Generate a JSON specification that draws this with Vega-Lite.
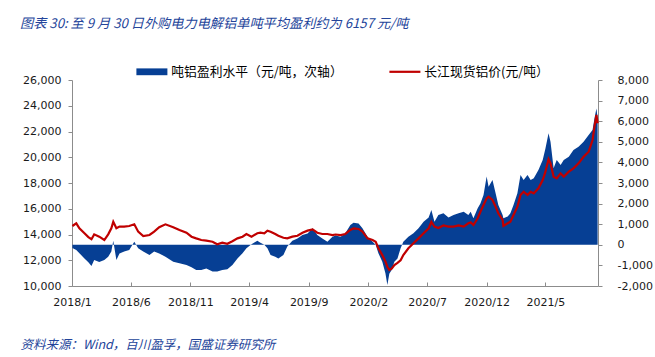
{
  "$schema": "https://vega.github.io/schema/vega-lite/v6.json",
  "width": 526,
  "height": 206,
  "autosize": {"type": "none"},
  "padding": {"left": 72, "top": 80, "right": 57, "bottom": 71},
  "background": "white",
  "config": {
    "view": {"stroke": null},
    "axis": {"grid": false, "domainColor": "#8c8c8c", "tickColor": "#8c8c8c", "labelFont": "DejaVu Sans", "labelFontSize": 11, "labelColor": "#1a1a1a", "tickSize": 4, "labelOverlap": false}
  },
  "title": {
    "text": "图表 30:  至 9 月 30 日外购电力电解铝单吨平均盈利约为 6157 元/吨",
    "anchor": "start", "frame": "group", "orient": "top", "dx": -52, "offset": 34,
    "font": "Noto Sans CJK SC", "fontSize": 13.2, "fontStyle": "italic", "fontWeight": "normal", "color": "#23449a"
  },
  "data": {"values": [
    {"date": "2018-01-02", "price": 14660, "profit": -150},
    {"date": "2018-01-12", "price": 14870, "profit": -250},
    {"date": "2018-01-20", "price": 14480, "profit": -410},
    {"date": "2018-02-02", "price": 14090, "profit": -660},
    {"date": "2018-02-12", "price": 13800, "profit": -850},
    {"date": "2018-02-20", "price": 13630, "profit": -1030},
    {"date": "2018-02-27", "price": 14010, "profit": -740},
    {"date": "2018-03-12", "price": 13830, "profit": -830},
    {"date": "2018-03-25", "price": 13570, "profit": -740},
    {"date": "2018-04-04", "price": 14010, "profit": -580},
    {"date": "2018-04-12", "price": 14480, "profit": -330},
    {"date": "2018-04-17", "price": 14990, "profit": 200},
    {"date": "2018-04-25", "price": 14480, "profit": -740},
    {"date": "2018-05-03", "price": 14610, "profit": -420},
    {"date": "2018-05-15", "price": 14610, "profit": -330},
    {"date": "2018-05-28", "price": 14660, "profit": -250},
    {"date": "2018-06-10", "price": 14790, "profit": 150},
    {"date": "2018-06-20", "price": 14220, "profit": -170},
    {"date": "2018-07-03", "price": 13880, "profit": -330},
    {"date": "2018-07-19", "price": 13960, "profit": -500},
    {"date": "2018-07-31", "price": 14220, "profit": -330},
    {"date": "2018-08-13", "price": 14560, "profit": -420},
    {"date": "2018-08-29", "price": 14790, "profit": -580},
    {"date": "2018-09-18", "price": 14560, "profit": -820},
    {"date": "2018-10-04", "price": 14350, "profit": -900},
    {"date": "2018-10-22", "price": 14140, "profit": -980},
    {"date": "2018-11-04", "price": 13830, "profit": -1090},
    {"date": "2018-11-16", "price": 13700, "profit": -1220},
    {"date": "2018-11-29", "price": 13570, "profit": -1220},
    {"date": "2018-12-12", "price": 13520, "profit": -1150},
    {"date": "2018-12-28", "price": 13440, "profit": -1300},
    {"date": "2019-01-09", "price": 13240, "profit": -1300},
    {"date": "2019-01-22", "price": 13360, "profit": -1220},
    {"date": "2019-02-04", "price": 13280, "profit": -1190},
    {"date": "2019-02-17", "price": 13480, "profit": -980},
    {"date": "2019-03-02", "price": 13700, "profit": -660},
    {"date": "2019-03-15", "price": 13830, "profit": -410},
    {"date": "2019-03-25", "price": 14040, "profit": -170},
    {"date": "2019-04-07", "price": 13830, "profit": 30},
    {"date": "2019-04-22", "price": 14100, "profit": 200},
    {"date": "2019-04-30", "price": 14140, "profit": 100},
    {"date": "2019-05-10", "price": 14090, "profit": 0},
    {"date": "2019-05-18", "price": 14300, "profit": -170},
    {"date": "2019-05-26", "price": 14220, "profit": -500},
    {"date": "2019-06-07", "price": 14040, "profit": -580},
    {"date": "2019-06-15", "price": 13900, "profit": -660},
    {"date": "2019-06-28", "price": 13750, "profit": -500},
    {"date": "2019-07-08", "price": 13700, "profit": -80},
    {"date": "2019-07-21", "price": 13830, "profit": 200},
    {"date": "2019-08-03", "price": 13900, "profit": 310},
    {"date": "2019-08-16", "price": 14140, "profit": 470},
    {"date": "2019-08-29", "price": 14300, "profit": 550},
    {"date": "2019-09-11", "price": 14400, "profit": 800},
    {"date": "2019-09-23", "price": 14140, "profit": 470},
    {"date": "2019-10-06", "price": 14040, "profit": 310},
    {"date": "2019-10-19", "price": 14040, "profit": 150},
    {"date": "2019-11-01", "price": 13960, "profit": 390},
    {"date": "2019-11-09", "price": 14000, "profit": 450},
    {"date": "2019-11-22", "price": 13960, "profit": 390},
    {"date": "2019-12-04", "price": 14040, "profit": 560},
    {"date": "2019-12-17", "price": 14350, "profit": 960},
    {"date": "2019-12-25", "price": 14480, "profit": 1070},
    {"date": "2020-01-07", "price": 14430, "profit": 1040},
    {"date": "2020-01-17", "price": 14220, "profit": 800},
    {"date": "2020-01-30", "price": 13700, "profit": 390},
    {"date": "2020-02-12", "price": 13570, "profit": 150},
    {"date": "2020-02-20", "price": 13440, "profit": 0},
    {"date": "2020-02-27", "price": 12930, "profit": -410},
    {"date": "2020-03-08", "price": 12400, "profit": -820},
    {"date": "2020-03-16", "price": 11900, "profit": -1380},
    {"date": "2020-03-21", "price": 11500, "profit": -1950},
    {"date": "2020-03-26", "price": 11240, "profit": -1400},
    {"date": "2020-04-01", "price": 11350, "profit": -1220},
    {"date": "2020-04-08", "price": 11630, "profit": -820},
    {"date": "2020-04-16", "price": 11800, "profit": -660},
    {"date": "2020-04-24", "price": 12000, "profit": -170},
    {"date": "2020-05-01", "price": 12410, "profit": 150},
    {"date": "2020-05-14", "price": 12930, "profit": 390},
    {"date": "2020-05-27", "price": 13320, "profit": 560},
    {"date": "2020-06-09", "price": 13700, "profit": 800},
    {"date": "2020-06-22", "price": 14090, "profit": 1120},
    {"date": "2020-07-05", "price": 14480, "profit": 1330},
    {"date": "2020-07-12", "price": 14990, "profit": 1690},
    {"date": "2020-07-20", "price": 14610, "profit": 1120},
    {"date": "2020-07-30", "price": 14500, "profit": 1450},
    {"date": "2020-08-12", "price": 14700, "profit": 1530},
    {"date": "2020-08-25", "price": 14610, "profit": 1330},
    {"date": "2020-09-07", "price": 14610, "profit": 1450},
    {"date": "2020-09-20", "price": 14700, "profit": 1530},
    {"date": "2020-10-03", "price": 14610, "profit": 1610},
    {"date": "2020-10-15", "price": 14870, "profit": 1450},
    {"date": "2020-10-21", "price": 14950, "profit": 1600},
    {"date": "2020-10-28", "price": 14740, "profit": 1290},
    {"date": "2020-11-08", "price": 15260, "profit": 1770},
    {"date": "2020-11-15", "price": 15770, "profit": 2010},
    {"date": "2020-11-23", "price": 16290, "profit": 2420},
    {"date": "2020-12-01", "price": 16810, "profit": 3310},
    {"date": "2020-12-06", "price": 16940, "profit": 2820},
    {"date": "2020-12-16", "price": 16680, "profit": 3150},
    {"date": "2020-12-24", "price": 16160, "profit": 2500},
    {"date": "2020-12-31", "price": 15650, "profit": 1930},
    {"date": "2021-01-11", "price": 15130, "profit": 1450},
    {"date": "2021-01-13", "price": 14660, "profit": 1290},
    {"date": "2021-01-24", "price": 14870, "profit": 1370},
    {"date": "2021-01-31", "price": 15000, "profit": 1530},
    {"date": "2021-02-08", "price": 15510, "profit": 1930},
    {"date": "2021-02-18", "price": 16160, "profit": 2500},
    {"date": "2021-02-26", "price": 17070, "profit": 3390},
    {"date": "2021-03-06", "price": 17320, "profit": 3150},
    {"date": "2021-03-16", "price": 17070, "profit": 3390},
    {"date": "2021-03-24", "price": 17320, "profit": 3150},
    {"date": "2021-04-01", "price": 17200, "profit": 3230},
    {"date": "2021-04-13", "price": 17590, "profit": 3630},
    {"date": "2021-04-24", "price": 18230, "profit": 4120},
    {"date": "2021-05-01", "price": 18880, "profit": 4680},
    {"date": "2021-05-09", "price": 19840, "profit": 5410},
    {"date": "2021-05-14", "price": 19530, "profit": 5000},
    {"date": "2021-05-22", "price": 18490, "profit": 3710},
    {"date": "2021-05-30", "price": 18360, "profit": 4120},
    {"date": "2021-06-09", "price": 18750, "profit": 3870},
    {"date": "2021-06-17", "price": 18490, "profit": 4120},
    {"date": "2021-06-30", "price": 18880, "profit": 4280},
    {"date": "2021-07-12", "price": 19140, "profit": 4600},
    {"date": "2021-07-25", "price": 19530, "profit": 4760},
    {"date": "2021-08-07", "price": 20040, "profit": 5000},
    {"date": "2021-08-20", "price": 20430, "profit": 5330},
    {"date": "2021-08-30", "price": 21340, "profit": 5570},
    {"date": "2021-09-04", "price": 22380, "profit": 6140},
    {"date": "2021-09-09", "price": 23280, "profit": 6620},
    {"date": "2021-09-12", "price": 22640, "profit": 6157}
  ]},
  "encoding": {
    "x": {
      "field": "date", "type": "temporal",
      "scale": {"domain": [{"year": 2018, "month": 1, "date": 1}, {"year": 2021, "month": 9, "date": 13}]},
      "axis": {
        "values": [
          {"year": 2018, "month": 1, "date": 1}, {"year": 2018, "month": 6, "date": 1}, {"year": 2018, "month": 11, "date": 1},
          {"year": 2019, "month": 4, "date": 1}, {"year": 2019, "month": 9, "date": 1}, {"year": 2020, "month": 2, "date": 1},
          {"year": 2020, "month": 7, "date": 1}, {"year": 2020, "month": 12, "date": 1}, {"year": 2021, "month": 5, "date": 1}
        ],
        "format": "%Y/%-m", "labelFlush": false, "tickSize": -4, "labelPadding": 14,
        "title": "资料来源：Wind，百川盈孚，国盛证券研究所",
        "titleAnchor": "start", "titleAlign": "left", "titleX": -52, "titleY": 58, "titleBaseline": "middle",
        "titleFont": "Noto Sans CJK SC", "titleFontSize": 12.5, "titleFontStyle": "italic", "titleFontWeight": "normal", "titleColor": "#23449a"
      }
    }
  },
  "layer": [
    {
      "mark": {"type": "area", "color": "#063f94", "interpolate": "linear"},
      "encoding": {
        "y": {
          "field": "profit", "type": "quantitative",
          "scale": {"domain": [-2000, 8000], "nice": false, "zero": false},
          "axis": {"orient": "right", "title": null, "values": [-2000, -1000, 0, 1000, 2000, 3000, 4000, 5000, 6000, 7000, 8000],
                   "format": ",.0f", "labelExpr": "replace(datum.label, '−', '-')", "labelAlign": "left", "labelPadding": 15}
        },
        "y2": {"datum": 0},
        "color": {
          "datum": "吨铝盈利水平（元/吨，次轴）", "type": "nominal",
          "scale": {"domain": ["吨铝盈利水平（元/吨，次轴）", "长江现货铝价(元/吨）"], "range": ["#063f94", "#c00000"]},
          "legend": {
            "orient": "none", "legendX": 64, "legendY": -15, "direction": "horizontal", "title": null, "padding": 0,
            "labelFont": "Noto Sans CJK SC", "labelFontSize": 12.8, "labelColor": "#000000", "labelOffset": 13,
            "symbolSize": 961, "symbolOffset": 9.5, "columnPadding": 42, "labelLimit": 400,
            "encode": {"symbols": {"update": {
              "shape": {"signal": "datum.value == '长江现货铝价(元/吨）' ? 'stroke' : 'M-1,-0.22H1V0.22H-1Z'"},
              "fill": {"signal": "datum.value == '长江现货铝价(元/吨）' ? 'transparent' : '#063f94'"},
              "stroke": {"signal": "datum.value == '长江现货铝价(元/吨）' ? '#c00000' : 'transparent'"},
              "strokeWidth": {"signal": "datum.value == '长江现货铝价(元/吨）' ? 2.2 : 0"},
              "opacity": {"value": 1}
            }}}
          }
        }
      }
    },
    {
      "mark": {"type": "line", "strokeWidth": 2.2, "interpolate": "linear"},
      "encoding": {
        "y": {
          "field": "price", "type": "quantitative",
          "scale": {"domain": [10000, 26000], "nice": false, "zero": false},
          "axis": {"orient": "left", "title": null, "values": [10000, 12000, 14000, 16000, 18000, 20000, 22000, 24000, 26000],
                   "format": ",.0f", "labelPadding": 7}
        },
        "color": {"datum": "长江现货铝价(元/吨）", "type": "nominal"}
      }
    }
  ],
  "resolve": {"scale": {"y": "independent"}}
}
